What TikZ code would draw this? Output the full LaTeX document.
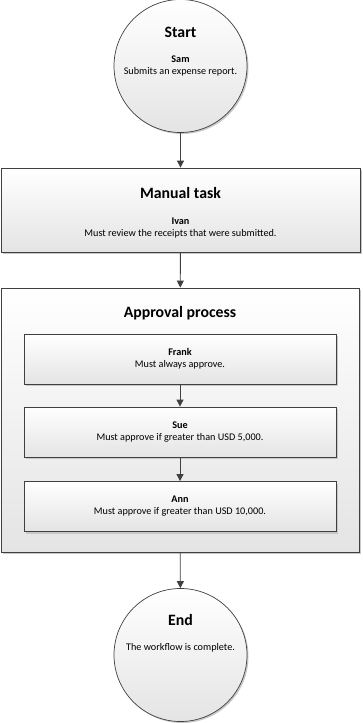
\documentclass[tikz,border=0pt]{standalone}
\usepackage{fontspec}
\setmainfont{Carlito}
\usetikzlibrary{arrows.meta,positioning,calc,shadows}
\definecolor{edgegray}{HTML}{404040}
\definecolor{shadegray}{HTML}{E4E4E4}
\definecolor{shadowgray}{HTML}{C8C8C8}

\tikzset{
  stepcircle/.style={circle, draw=edgegray, line width=0.7pt, minimum size=133pt, inner sep=0pt,
    top color=white, bottom color=shadegray,
    drop shadow={shadow xshift=1.5pt, shadow yshift=-1.5pt, fill=shadowgray, opacity=1}},
  taskbox/.style={rectangle, draw=edgegray, line width=0.8pt, inner sep=0pt, align=center,
    top color=white, bottom color=shadegray,
    drop shadow={shadow xshift=2pt, shadow yshift=-2pt, fill=shadowgray, opacity=1}},
  flow/.style={-{Triangle[length=7pt,width=7pt]}, edgegray, line width=0.8pt},
  headtext/.style={font=\fontsize{15.8}{18}\selectfont\bfseries},
  bodytext/.style={font=\fontsize{10.2}{12}\selectfont, align=center},
}

\begin{document}
\begin{tikzpicture}[x=1pt, y=1pt]
    \useasboundingbox (0,0) rectangle (363,-723);

    % --- Start ---
    \node[stepcircle] (start) at (180.5,-66) {};
    \node[headtext] (starthead) at (180.5,-32) {Start};
    \node[bodytext] (starttext) at (180.5,-66) {\textbf{Sam}\\Submits an expense report.};

    % --- Manual task ---
    \node[taskbox, minimum width=359pt, minimum height=84pt] (manual) at (180.5,-210) {};
    \node[headtext] (manualhead) at (180.5,-193) {Manual task};
    \node[bodytext] (manualtext) at (180.5,-228.5) {\textbf{Ivan}\\Must review the receipts that were submitted.};

    % --- Approval process ---
    \node[taskbox, minimum width=358pt, minimum height=264pt] (approval) at (180,-420) {};
    \node[headtext] (approvalhead) at (180,-313) {Approval process};
    \node[taskbox, bodytext, minimum width=312pt, minimum height=50pt] (frank) at (180,-359)
        {\textbf{Frank}\\Must always approve.};
    \node[taskbox, bodytext, minimum width=312pt, minimum height=50pt] (sue) at (180,-432)
        {\textbf{Sue}\\Must approve if greater than USD 5,000.};
    \node[taskbox, bodytext, minimum width=312pt, minimum height=50pt] (ann) at (180,-506.5)
        {\textbf{Ann}\\Must approve if greater than USD 10,000.};

    % --- End ---
    \node[stepcircle] (end) at (180.5,-655) {};
    \node[headtext] (endhead) at (180.5,-620) {End};
    \node[bodytext] (endtext) at (180.5,-648) {The workflow is complete.};

    % Connectors
    \draw[flow] (start) -- (manual);
    \draw[flow] (manual) -- (approval);
    \draw[flow] (frank) -- (sue);
    \draw[flow] (sue) -- (ann);
    \draw[flow] (approval) -- (end);
\end{tikzpicture}
\end{document}
